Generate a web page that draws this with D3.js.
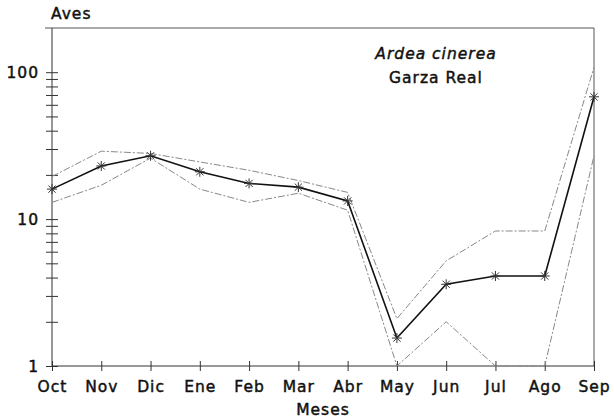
<!DOCTYPE html>
<html>
<head>
<meta charset="utf-8">
<script src="https://cdn.jsdelivr.net/npm/d3@7"></script>
<style>
  body { margin: 0; background: #fff; }
  svg { display: block; }
  svg text { font-family: "DejaVu Sans", sans-serif; font-size: 15.5px; letter-spacing: 1px;
             fill: #111; stroke: #111; stroke-width: 0.45px; }
</style>
</head>
<body>
<svg id="chart" width="614" height="420"></svg>
<script>
// months along the x axis
var meses = ["Oct", "Nov", "Dic", "Ene", "Feb", "Mar", "Abr", "May", "Jun", "Jul", "Ago", "Sep"];
// mean count of birds (line with asterisks)
var media = [16, 23, 27, 21, 17.5, 16.5, 13.3, 1.55, 3.6, 4.1, 4.1, 68];
// upper and lower limits (thin grey lines)
var superior = [19.5, 29, 28, 24.5, 21.5, 18.3, 15.2, 2.1, 5.2, 8.3, 8.3, 108];
var inferior = [13, 17, 26, 16, 13, 15, 11.5, 1, 2, 1, 1, 27];
// y axis labels and minor ticks
var yLabels = [1, 10, 100];
var yTicks = [1, 2, 3, 4, 5, 6, 7, 8, 9, 10, 20, 30, 40, 50, 60, 70, 80, 90, 100];

var svg = d3.select("#chart");
var mLeft = 52, mRight = 594, mTop = 28, mBottom = 366;

var x = d3.scalePoint().domain(meses).range([mLeft, mRight]);
var y = d3.scaleLog().domain([1, 200]).range([mBottom, mTop]);

// frame (top and right edges)
svg.append("path")
	.attr("d", "M" + (mLeft - 7) + "," + mTop + "H" + mRight + "V" + mBottom)
	.attr("fill", "none")
	.attr("stroke", "#555")
	.attr("stroke-width", 1);

// y axis
var yAxis = svg.append("g")
	.attr("transform", "translate(" + mLeft + ",0)")
	.call(d3.axisLeft(y).tickValues(yTicks).tickSize(6)
		.tickFormat(function(d) { return yLabels.indexOf(d) >= 0 ? d : ""; }));
yAxis.select(".domain").attr("stroke", "#333").attr("d", "M0," + mTop + "V" + mBottom);
yAxis.selectAll(".tick line").attr("x1", -6).attr("x2", 6).attr("stroke", "#333");
yAxis.selectAll(".tick text")
	.attr("x", -13)
	.attr("dy", "0.36em")
	.attr("fill", null);

// x axis
var xAxis = svg.append("g")
	.attr("transform", "translate(0," + mBottom + ")")
	.call(d3.axisBottom(x).tickSize(5));
xAxis.select(".domain").attr("stroke", "#333").attr("d", "M" + mLeft + ",0H" + mRight);
xAxis.selectAll(".tick line").attr("y1", -5).attr("y2", 5).attr("stroke", "#333");
xAxis.selectAll(".tick text")
	.attr("y", 26)
	.attr("dy", null)
	.attr("fill", null);
svg.selectAll("g").attr("font-size", null).attr("font-family", null);

// axis titles
svg.append("text").attr("x", 51).attr("y", 19).text("Aves");
svg.append("text").attr("x", (mLeft + mRight) / 2).attr("y", 415)
	.attr("text-anchor", "middle").text("Meses");

// species name
svg.append("text").attr("x", 436).attr("y", 59)
	.attr("text-anchor", "middle").attr("font-style", "italic")
	.text("Ardea cinerea");
svg.append("text").attr("x", 436).attr("y", 83)
	.attr("text-anchor", "middle")
	.text("Garza Real");

var line = d3.line()
	.x(function(d, i) { return x(meses[i]); })
	.y(function(d) { return y(d); });

// limits
[superior, inferior].forEach(function(serie) {
	svg.append("path")
		.datum(serie)
		.attr("d", line)
		.attr("fill", "none")
		.attr("stroke", "#888")
		.attr("stroke-width", 1)
		.attr("stroke-dasharray", "7,2,2,2");
});

// mean
svg.append("path")
	.datum(media)
	.attr("d", line)
	.attr("fill", "none")
	.attr("stroke", "#111")
	.attr("stroke-width", 1.6);

// asterisk markers
var star = "M0,-5V5M-5,0H5M-3.6,-3.6L3.6,3.6M-3.6,3.6L3.6,-3.6";
svg.selectAll(".marker").data(media).enter().append("path")
	.attr("class", "marker")
	.attr("transform", function(d, i) { return "translate(" + x(meses[i]) + "," + y(d) + ")"; })
	.attr("d", star)
	.attr("fill", "none")
	.attr("stroke", "#333")
	.attr("stroke-width", 1);
</script>
</body>
</html>
